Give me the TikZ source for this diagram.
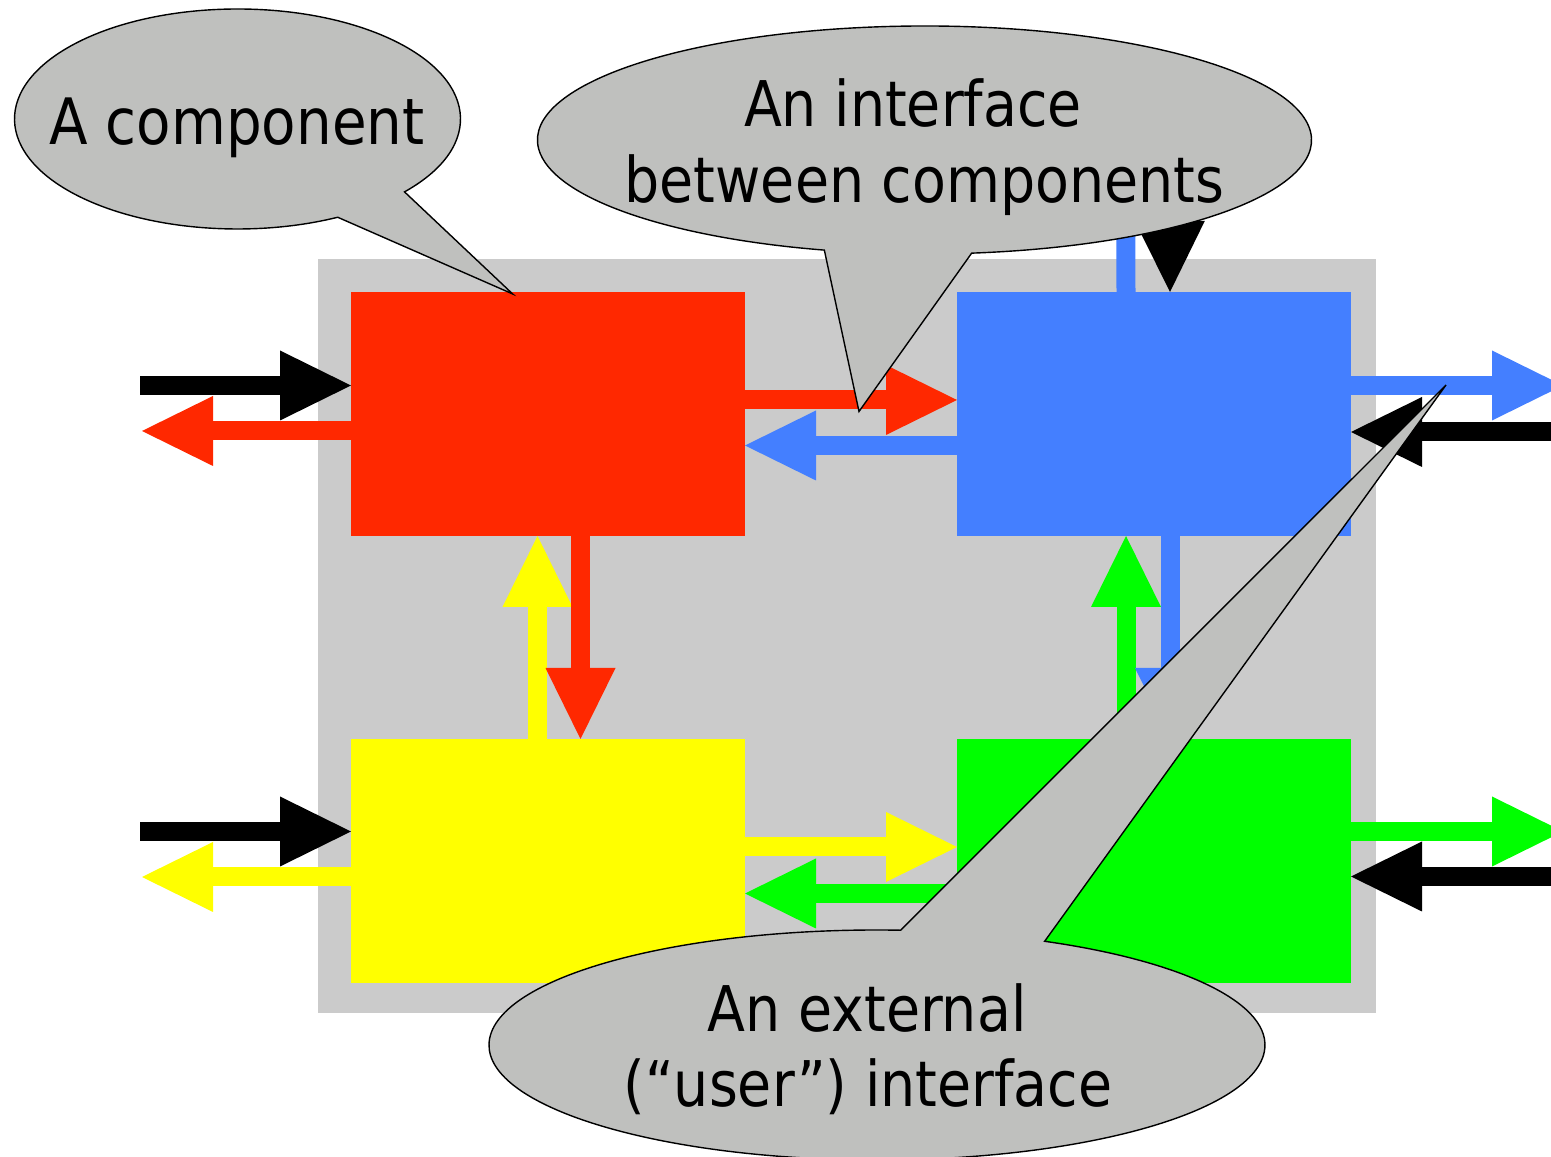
\documentclass[tikz,border=0pt]{standalone}
\usepackage{fontspec}
\newfontfamily\callfont[FakeStretch=0.88]{DejaVu Sans}
\usetikzlibrary{arrows.meta,calc}
\definecolor{panel}{HTML}{CBCBCB}
\definecolor{compred}{HTML}{FF2800}
\definecolor{compblue}{HTML}{447FFF}
\definecolor{compyellow}{HTML}{FFFF00}
\definecolor{compgreen}{HTML}{00FF00}
\definecolor{balloon}{HTML}{BFC0BE}

\begin{document}
\begin{tikzpicture}[x=1pt,y=1pt,
  comp/.style={draw=none, fill=#1, minimum width=394pt, minimum height=244pt,
               inner sep=0pt, outer sep=0pt, anchor=south west},
  flow/.style={draw=#1, line width=19pt, line cap=butt,
               -{Triangle[width=70pt,length=71pt,line width=0pt]}},
  bubble/.style={fill=balloon, draw=black, line width=1.4pt, line join=miter},
  say/.style={anchor=base, inner sep=0pt, font=\callfont\fontsize{63}{76}\selectfont}]

\clip (0,0) rectangle (1551,1157);

% system panel
\fill[panel] (318,144) rectangle (1376,898);

% the four components
\node[comp=compred]    (red)    at (351,621) {};
\node[comp=compblue]   (blue)   at (957,621) {};
\node[comp=compyellow] (yellow) at (351,174) {};
\node[comp=compgreen]  (green)  at (957,174) {};

% free ends of the external connections
\coordinate (inRL)  at (140,771.5);
\coordinate (outRL) at (142,726);
\coordinate (inYL)  at (140,325.5);
\coordinate (outYL) at (142,280);
\coordinate (outBR) at (1563,771.5);
\coordinate (inBR)  at (1560,725);
\coordinate (outGR) at (1563,325.5);
\coordinate (inGR)  at (1560,280.5);
\coordinate (outBT) at (1125.5,1037);
\coordinate (inBT)  at (1169.5,1057);

% external connections
\draw[flow=black]      (inRL) -- ([yshift=28.5]red.west);
\draw[flow=compred]    ([yshift=-17]red.west) -- (outRL);
\draw[flow=black]      (inYL) -- ([yshift=29.5]yellow.west);
\draw[flow=compyellow] ([yshift=-16]yellow.west) -- (outYL);
\draw[flow=compblue]   ([yshift=28.5]blue.east) -- (outBR);
\draw[flow=black]      (inBR) -- ([yshift=-18]blue.east);
\draw[flow=compgreen]  ([yshift=29.5]green.east) -- (outGR);
\draw[flow=black]      (inGR) -- ([yshift=-15.5]green.east);
\draw[flow=compblue]   ([xshift=-28]blue.north) -- (outBT);
\draw[flow=black]      (inBT) -- ([xshift=16]blue.north);

% connections between components
\draw[flow=compred]    ([yshift=14]red.east) -- ([yshift=14]blue.west);
\draw[flow=compblue]   ([yshift=-31.5]blue.west) -- ([yshift=-31.5]red.east);
\draw[flow=compyellow] ([yshift=14]yellow.east) -- ([yshift=14]green.west);
\draw[flow=compgreen]  ([yshift=-32.5]green.west) -- ([yshift=-32.5]yellow.east);
\draw[flow=compyellow] ([xshift=-10.5]yellow.north) -- ([xshift=-10.5]red.south);
\draw[flow=compred]    ([xshift=32.5]red.south) -- ([xshift=32.5]yellow.north);
\draw[flow=compgreen]  ([xshift=-28]green.north) -- ([xshift=-28]blue.south);
\draw[flow=compblue]   ([xshift=16]blue.south) -- ([xshift=16]green.north);

% speech balloons
\coordinate (c1) at (237.5,1038);
\coordinate (tip1) at (512.7,863);
\coordinate (c2) at (924.5,1017);
\coordinate (tip2) at (859,745.5);
\coordinate (c3) at (877,112);
\coordinate (tip3) at (1446,772);

\draw[bubble] ($(c1)+(-41.5:223 and 110)$)
  arc[start angle=-41.5, end angle=296.7, x radius=223, y radius=110]
  -- (tip1) -- cycle;
\draw[bubble] ($(c2)+(-83:387 and 114)$)
  arc[start angle=-83, end angle=255, x radius=387, y radius=114]
  -- (tip2) -- cycle;
\draw[bubble] ($(c3)+(86.5:388 and 115)$)
  arc[start angle=86.5, end angle=424.4, x radius=388, y radius=115]
  -- (tip3) -- cycle;

% balloon texts
\node[say, font=\callfont\fontsize{64}{76}\selectfont] (t1) at (237,1012) {A component};
\node[say] (t2a) at (913,1030) {An interface};
\node[say] (t2b) at (924.5,954) {between components};
\node[say] (t3a) at (867,125) {An external};
\node[say] (t3b) at (868,50) {(“user”) interface};

\end{tikzpicture}
\end{document}
